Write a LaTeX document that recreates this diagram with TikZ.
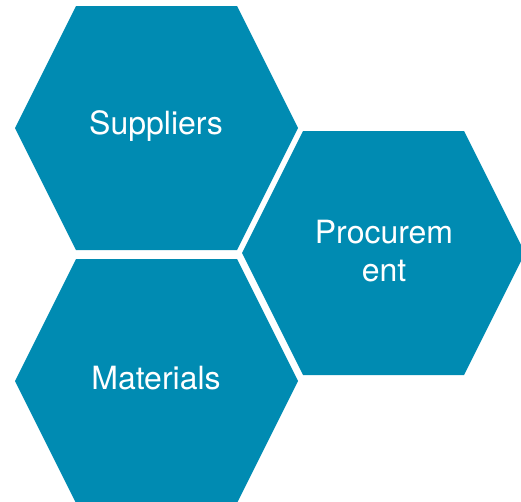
\documentclass[tikz,border=0pt]{standalone}
\usepackage{fontspec}
\setmainfont{TeX Gyre Heros}
\definecolor{teal}{HTML}{008BB2}
\tikzset{
  cell/.style={fill=teal},
  celltext/.style={text=white, align=center, font=\fontsize{32}{38}\selectfont}
}
\begin{document}
\begin{tikzpicture}[x=1pt,y=-1pt]
% frame
\useasboundingbox (0,0) rectangle (521,501);
\clip (0,0) rectangle (521,501);
% suppliers
\fill[cell] (156,128) ++(-141,0) -- ++(61,-122) -- ++(161,0) -- ++(61,122)
  -- ++(-61,122) -- ++(-161,0) -- cycle;
\node[celltext] (suppliers) at (156,126) {Suppliers};
% materials
\fill[cell] (156,381) ++(-141,0) -- ++(61,-122) -- ++(161,0) -- ++(61,122)
  -- ++(-61,122) -- ++(-161,0) -- cycle;
\node[celltext] (materials) at (156,378) {Materials};
% procurement
\fill[cell] (383,253) ++(-141,0) -- ++(61,-122) -- ++(161,0) -- ++(61,122)
  -- ++(-61,122) -- ++(-161,0) -- cycle;
\node[celltext] (procurement) at (384,251) {Procurem\\ent};
\end{tikzpicture}
\end{document}
